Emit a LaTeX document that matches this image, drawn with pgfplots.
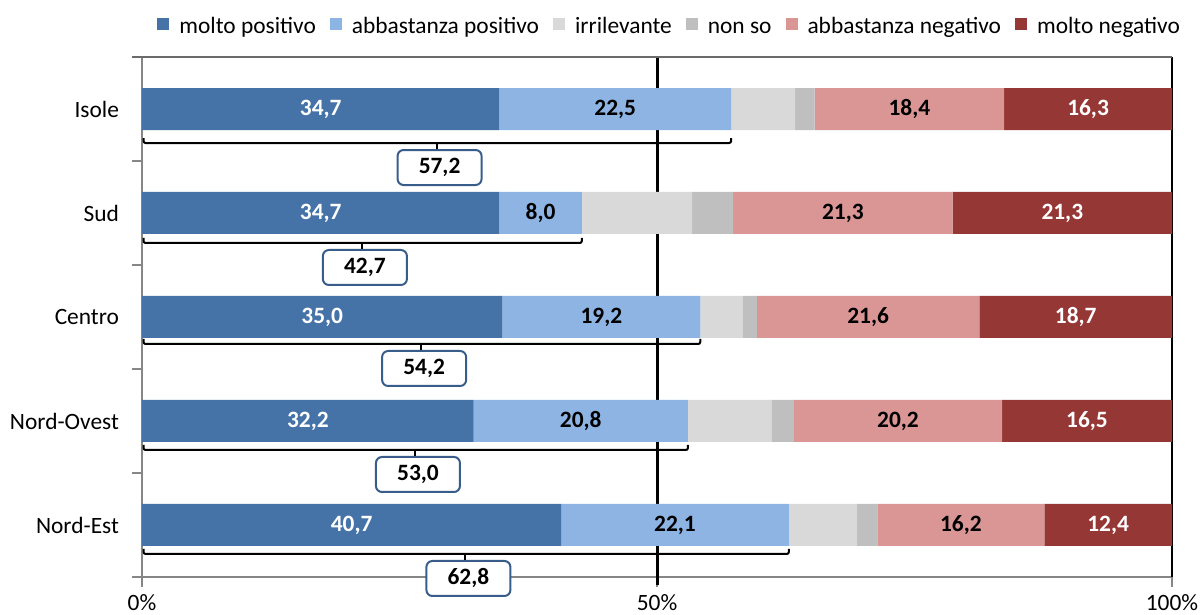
\documentclass[border=0pt]{standalone}
\usepackage{fontspec}
\setmainfont{Carlito}
\usepackage{pgfplots}
\usepackage{pgfplotstable}
\pgfplotsset{compat=1.18}
\definecolor{mp}{HTML}{4572A7}
\definecolor{ap}{HTML}{8EB4E3}
\definecolor{irr}{HTML}{D9D9D9}
\definecolor{ns}{HTML}{BFBFBF}
\definecolor{an}{HTML}{D99694}
\definecolor{mn}{HTML}{953735}
\definecolor{boxc}{HTML}{385D8A}
\definecolor{axg}{HTML}{868686}
\newcommand\fs{\fontsize{11.7}{14}\selectfont}

\pgfplotstableread{
y  mp   ap   irr  ns   an   mn
0  40.7 22.1 6.6  2.0  16.2 12.4
1  32.2 20.8 8.1  2.2  20.2 16.5
2  35.0 19.2 4.1  1.4  21.6 18.7
3  34.7 8.0  10.7 4.0  21.3 21.3
4  34.7 22.5 6.2  1.9  18.4 16.3
}\data

% bracket: #1 y, #2 sum, #3 half, #4 label, #5 offset
\newcommand\brk[5]{%
  \draw[line width=1pt, black, rounded corners=1pt]
    ([yshift=-#5+2.5pt]axis cs:0.15,#1) -- ([yshift=-#5]axis cs:0.15,#1)
    -- ([yshift=-#5]axis cs:#2,#1) -- ([yshift=-#5+2.5pt]axis cs:#2,#1);
  \draw[line width=1pt, black] ([yshift=-#5]axis cs:#3,#1) -- ([yshift=-#5-3pt]axis cs:#3,#1);
  \node[draw=boxc, line width=1pt, rounded corners=3pt, fill=white,
        minimum width=42pt, minimum height=17.5pt, inner sep=0pt,
        anchor=north, font=\fs\bfseries]
    at ([xshift=1.5pt,yshift=-#5-3pt]axis cs:#3,#1) {\raisebox{-1pt}{#4}};
}

\begin{document}
\begin{tikzpicture}
\begin{axis}[
  name=ax,
  xbar stacked, bar width=21pt,
  scale only axis, width=515pt, height=260pt,
  xmin=0, xmax=100, ymin=-0.5, ymax=4.5,
  clip=false,
  axis x line*=bottom, axis y line*=left,
  axis line style={draw=axg, line width=0.6pt},
  tick align=outside,
  major tick length=0pt, minor tick length=5pt,
  tick style={draw=axg, line width=0.6pt},
  ytick={0,1,2,3,4},
  yticklabels={Nord-Est,Nord-Ovest,Centro,Sud,Isole},
  minor ytick={-0.5,0.5,1.5,2.5,3.5,4.5},
  xtick={0,50,100},
  minor xtick={0,50,100},
  xticklabels={0\%,50\%,100\%},
  yticklabel style={font=\fs, xshift=-8pt},
  xticklabel style={font=\fs, yshift=-5pt},
  /pgf/number format/.cd, fixed, fixed zerofill, precision=1, use comma, assume math mode=true,
  /pgfplots/.cd,
  legend style={at={(axis description cs:1.012,1)}, anchor=south east, yshift=8pt,
    draw=none, fill=none, font=\fs, inner sep=0pt,
    /tikz/every even column/.append style={column sep=5pt},
    /tikz/every odd column/.append style={column sep=3pt}},
  legend columns=-1,
  legend image code/.code={\fill[#1] (0pt,-2.5pt) rectangle (6pt,3.5pt);},
  point meta=explicit,
]
\addplot[fill=mp, draw=none, nodes near coords,
  every node near coord/.append style={font=\fs\bfseries, color=white}]
  table[x=mp, y=y, meta=mp] {\data};
\addplot[fill=ap, draw=none, nodes near coords,
  every node near coord/.append style={font=\fs\bfseries, color=black}]
  table[x=ap, y=y, meta=ap] {\data};
\addplot[fill=irr, draw=none] table[x=irr, y=y, meta=irr] {\data};
\addplot[fill=ns, draw=none] table[x=ns, y=y, meta=ns] {\data};
\addplot[fill=an, draw=none, nodes near coords,
  every node near coord/.append style={font=\fs\bfseries, color=black}]
  table[x=an, y=y, meta=an] {\data};
\addplot[fill=mn, draw=none, nodes near coords,
  every node near coord/.append style={font=\fs\bfseries, color=white}]
  table[x=mn, y=y, meta=mn] {\data};
\legend{\strut molto positivo, \strut abbastanza positivo, \strut irrilevante, \strut non so, \strut abbastanza negativo, \strut molto negativo}

\draw[line width=1pt, draw=black!58] ([xshift=-5pt]axis cs:0,4.5) -- (axis cs:100,4.5);
\draw[line width=0.6pt, black] (axis cs:100,-0.5) -- (axis cs:100,4.5);
\draw[line width=1.5pt, black] ([yshift=-4pt]axis cs:50,-0.5) -- (axis cs:50,4.5);

\brk{4}{57.2}{28.6}{57,2}{17pt}
\brk{3}{42.7}{21.35}{42,7}{15pt}
\brk{2}{54.2}{27.1}{54,2}{13.5pt}
\brk{1}{53.0}{26.5}{53,0}{14.5pt}
\brk{0}{62.8}{31.4}{62,8}{14.5pt}
\end{axis}
\pgfresetboundingbox
\path[use as bounding box] ([xshift=-71pt,yshift=-19pt]ax.south west) rectangle ([xshift=14.5pt,yshift=28.5pt]ax.north east);
\end{tikzpicture}
\end{document}
